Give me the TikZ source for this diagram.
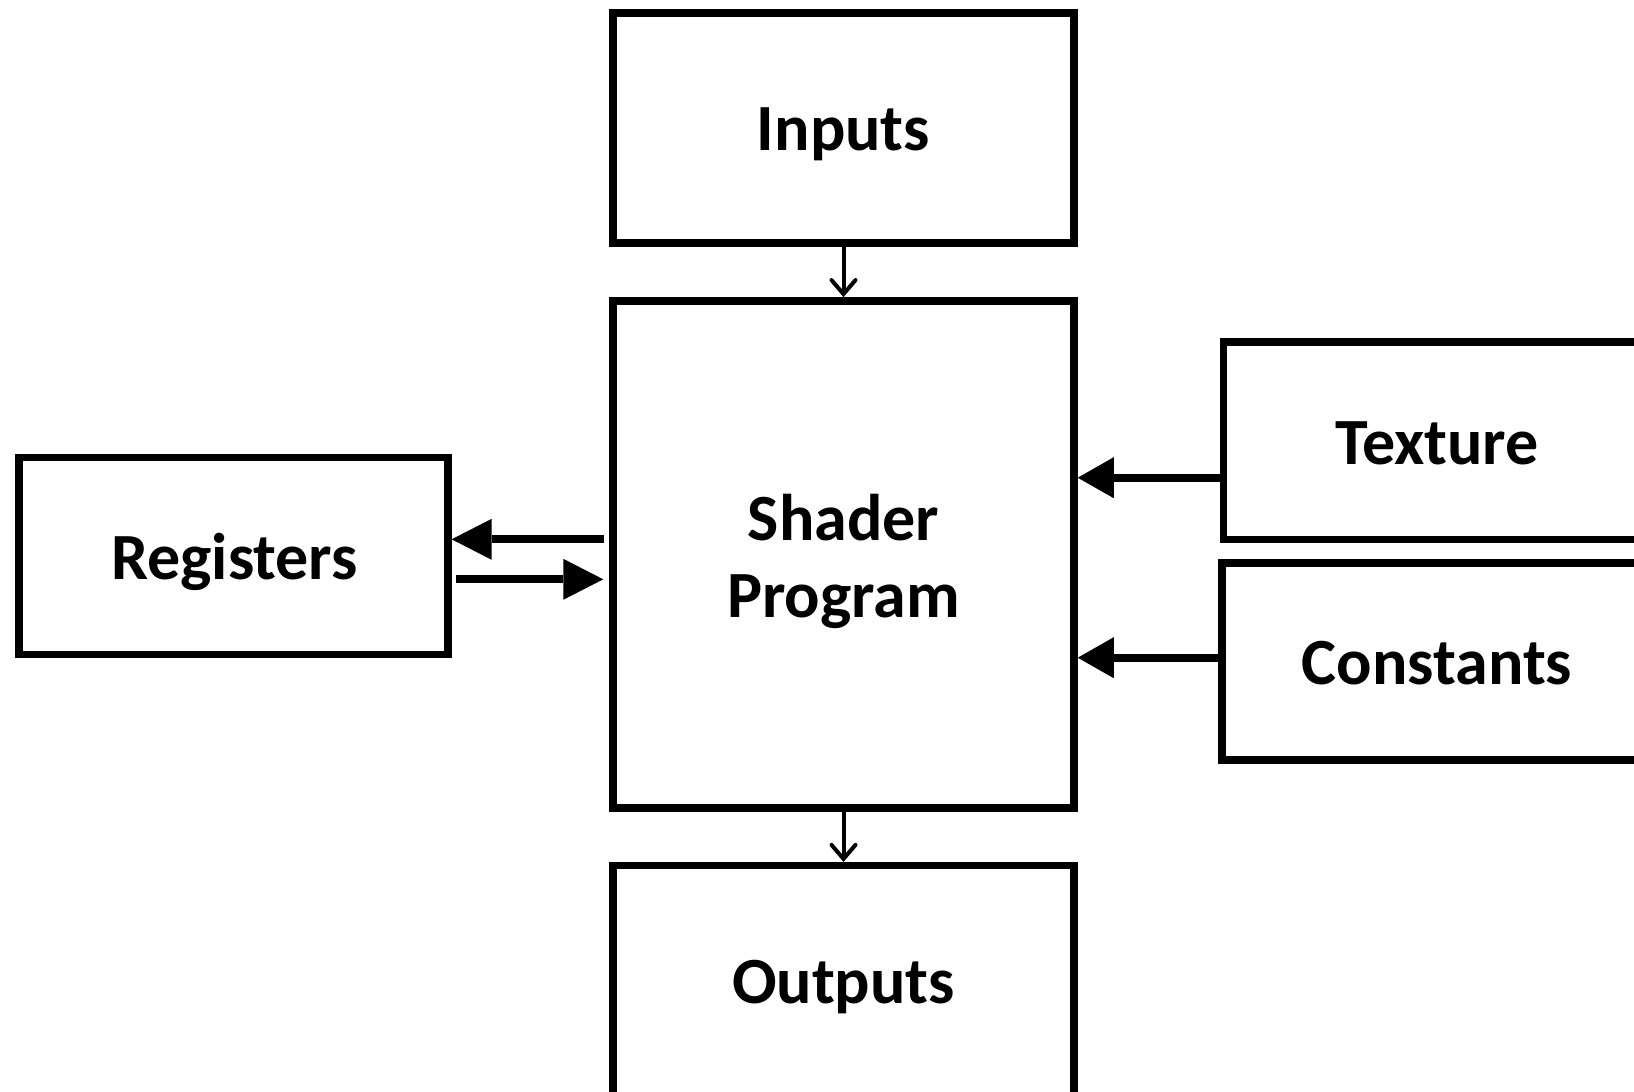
\documentclass[tikz,border=0pt]{standalone}
\usepackage{fontspec}
\setmainfont{Carlito}
\usetikzlibrary{arrows.meta}

\tikzset{
  blk/.style={draw=black, line width=7.5pt, fill=white, inner sep=0pt},
  lbl/.style={inner sep=0pt, anchor=base, align=center,
              font=\fontsize{66}{70}\selectfont\bfseries},
  flow/.style={draw=black, line width=4pt,
               -{Straight Barb[length=14pt,width=24pt,line cap=round]}},
  bus/.style={draw=black, line width=8pt,
              -{Triangle[length=40pt,width=41pt,line width=0pt]}},
  feed/.style={draw=black, line width=8pt,
              -{Triangle[length=36pt,width=41pt,line width=0pt]}},
}

\begin{document}
\begin{tikzpicture}[x=1pt,y=-1pt]
  \useasboundingbox (0,0) rectangle (1634,1092);
  \fill[white] (0,0) rectangle (1634,1092);
  \clip (0,0) rectangle (1634,1092);

  % main pipeline column
  \node[blk, minimum width=461pt, minimum height=230pt] (inputs)  at (843.5,128) {};
  \node[blk, minimum width=461pt, minimum height=507pt] (shader)  at (843.5,554.4) {};
  \node[blk, minimum width=461pt, minimum height=234pt] (outputs) at (843.5,982.7) {};

  % side storage
  \node[blk, minimum width=429pt, minimum height=197pt] (registers) at (233.4,555.8) {};
  \node[blk, minimum width=460pt, minimum height=197.5pt, anchor=west] (texture)   at (1219.5,440.8) {};
  \node[blk, minimum width=460pt, minimum height=197pt,   anchor=west] (constants) at (1218.3,661.6) {};

  % labels, set on their baselines
  \node[lbl] (inputstext)    at (843.5,150)  {Inputs};
  \node[lbl] (shadertext)    at (843.5,540)  {Shader};
  \node[lbl] (programtext)   at (843.5,617)  {Program};
  \node[lbl] (outputstext)   at (843.5,1003.5) {Outputs};
  \node[lbl] (registerstext) at (234.5,579) {Registers};
  \node[lbl] (texturetext)   at (1437,464.5) {Texture};
  \node[lbl] (constantstext) at (1437,684) {Constants};

  % rows of the horizontal connectors
  \coordinate (rowA) at (0,539.3);
  \coordinate (rowB) at (0,579.3);
  \coordinate (rowT) at (0,477.7);
  \coordinate (rowC) at (0,657.7);

  % connectors
  \draw[flow] (inputs.south) -- (shader.north);
  \draw[flow] (shader.south) -- (outputs.north);
  \draw[bus, shorten <=5pt] (shader.west |- rowA) -- (registers.east |- rowA);
  \draw[bus, shorten <=4.5pt, shorten >=6pt] (registers.east |- rowB) -- (shader.west |- rowB);
  \draw[feed] (texture.west |- rowT) -- (shader.east |- rowT);
  \draw[feed] (constants.west |- rowC) -- (shader.east |- rowC);
\end{tikzpicture}
\end{document}
